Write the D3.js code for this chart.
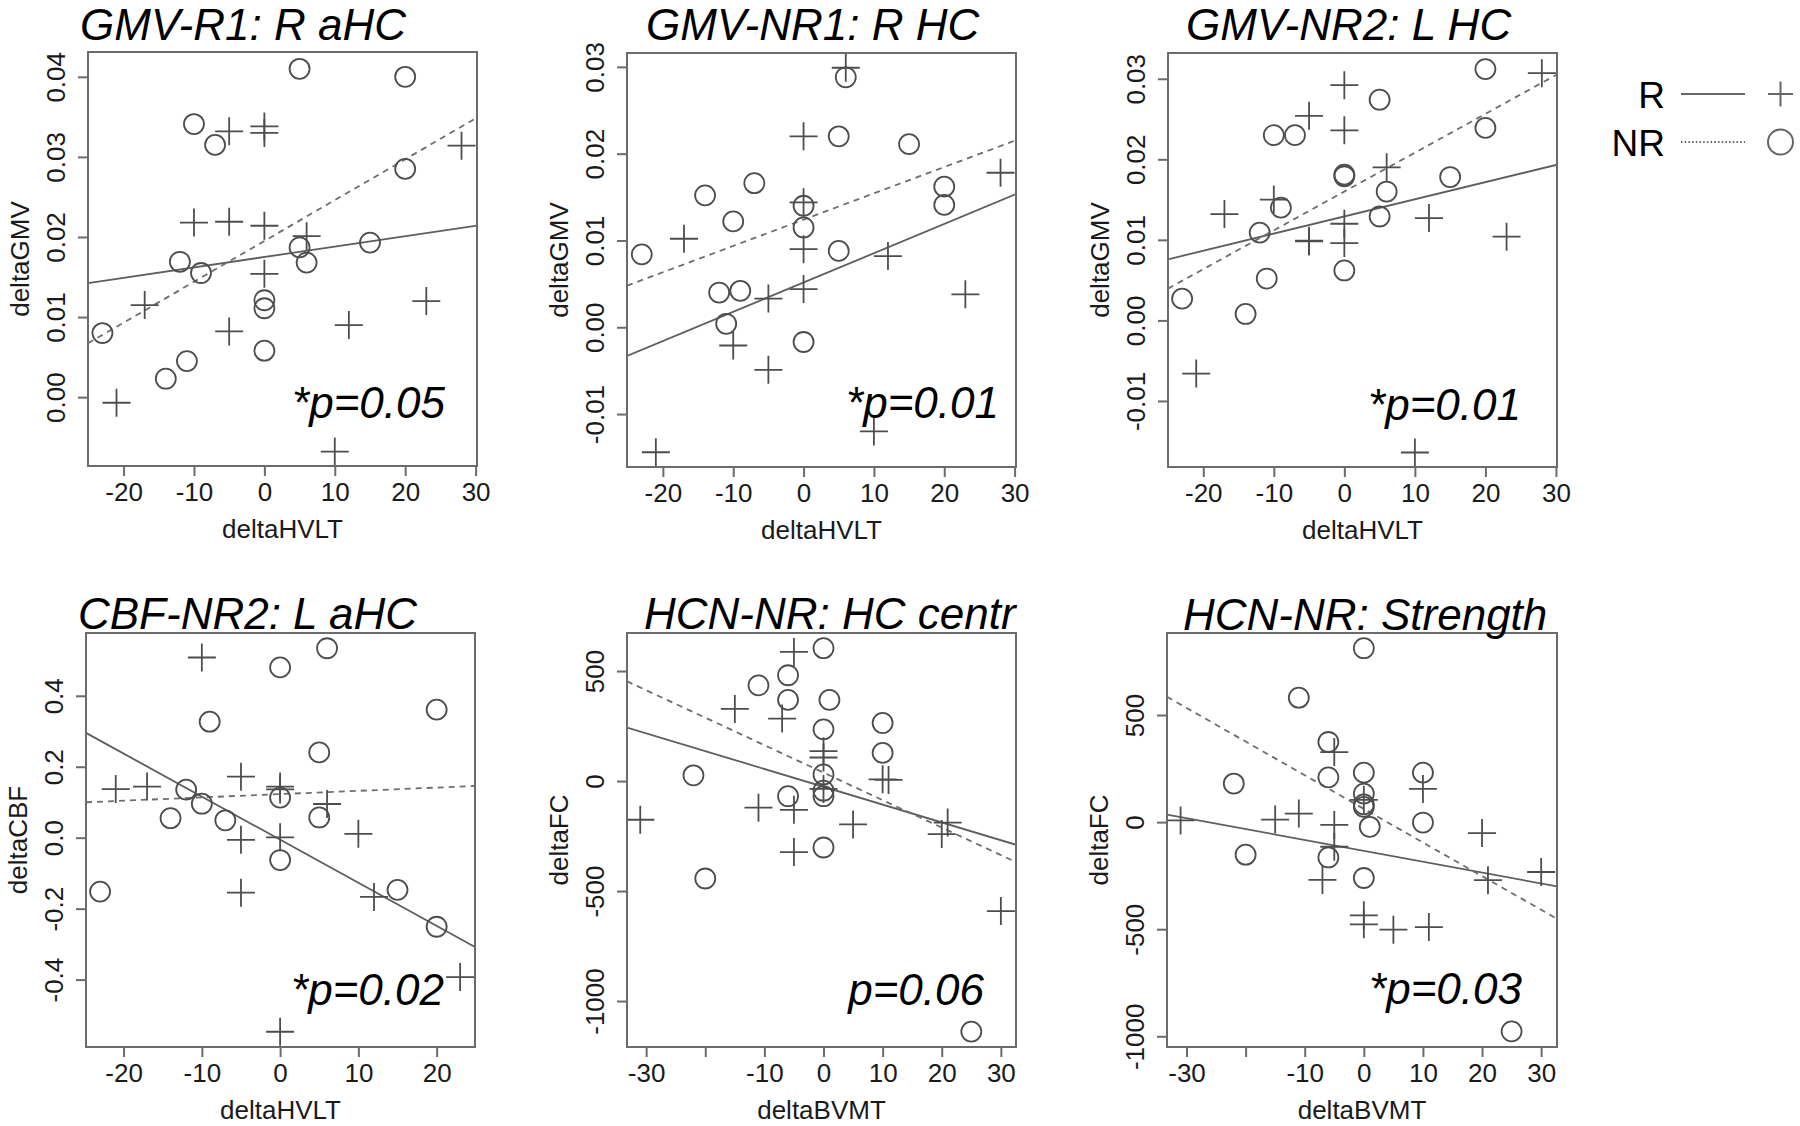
<!DOCTYPE html>
<html><head><meta charset="utf-8">
<script src="https://cdn.jsdelivr.net/npm/d3@7"></script>
<style>body{margin:0;background:#fff}svg{display:block}</style>
</head><body>
<svg id="chart" width="1800" height="1126"></svg>
<script>
// ---------------- DATA ----------------
const titles  = ["GMV-R1: R aHC", "GMV-NR1: R HC", "GMV-NR2: L HC", "CBF-NR2: L aHC", "HCN-NR: HC centr", "HCN-NR: Strength"];
const pLabels = ["*p=0.05", "*p=0.01", "*p=0.01", "*p=0.02", "p=0.06", "*p=0.03"];
const xTitles = ["deltaHVLT", "deltaHVLT", "deltaHVLT", "deltaHVLT", "deltaBVMT", "deltaBVMT"];
const yTitles = ["deltaGMV", "deltaGMV", "deltaGMV", "deltaCBF", "deltaFC", "deltaFC"];
const legendLabels = ["R", "NR"];

const xDomains = [[-25.05, 30.2], [-25.1, 30.2], [-25.0, 30.15], [-24.8, 24.9], [-33.24, 32.56], [-33.3, 32.68]];
const yDomains = [[-0.0086, 0.0431], [-0.0161, 0.0316], [-0.0182, 0.0332], [-0.590, 0.577], [-1209, 673], [-1050, 883]];

const xTicksHVLT30 = [-20, -10, 0, 10, 20, 30];
const xTicksHVLT20 = [-20, -10, 0, 10, 20];
const xTicksBVMT = [-30, -20, -10, 0, 10, 20, 30];
const xTickLabelsHVLT30 = ["-20", "-10", "0", "10", "20", "30"];
const xTickLabelsHVLT20 = ["-20", "-10", "0", "10", "20"];
const xTickLabelsBVMT = ["-30", "", "-10", "0", "10", "20", "30"];

const yTicks1 = [0, 0.01, 0.02, 0.03, 0.04];
const yTickLabels1 = ["0.00", "0.01", "0.02", "0.03", "0.04"];
const yTicks23 = [-0.01, 0, 0.01, 0.02, 0.03];
const yTickLabels23 = ["-0.01", "0.00", "0.01", "0.02", "0.03"];
const yTicks4 = [-0.4, -0.2, 0, 0.2, 0.4];
const yTickLabels4 = ["-0.4", "-0.2", "0.0", "0.2", "0.4"];
const yTicksFC = [-1000, -500, 0, 500];
const yTickLabelsFC = ["-1000", "-500", "0", "500"];

// Responders (R, plus) and non-responders (NR, circle): [x, y]
const r1 = [[-5,0.0332],[0,0.0338],[0,0.0330],[28,0.0314],[-10,0.0218],[-5,0.0219],[0,0.0214],[6,0.0201],[0,0.0154],[-17,0.0115],[-5,0.0082],[12,0.0090],[23,0.0120],[-21,-0.0007],[10,-0.0068]];
const nr1 = [[5,0.041],[20,0.040],[-10,0.0341],[-7,0.0315],[20,0.0285],[-12,0.0169],[-9,0.0155],[5,0.0187],[6,0.0168],[15,0.0193],[0,0.0121],[0,0.0111],[0,0.0058],[-23,0.0080],[-11,0.0045],[-14,0.0023]];
const r2 = [[6,0.0299],[0,0.0220],[28,0.0178],[0,0.0144],[-17,0.0102],[0,0.0090],[12,0.0082],[0,0.0044],[-5,0.0033],[23,0.0038],[-10,-0.0021],[-5,-0.0049],[10,-0.0120],[-21,-0.0144]];
const nr2 = [[6,0.0288],[5,0.0220],[15,0.0211],[-7,0.0166],[-14,0.0152],[-10,0.0122],[0,0.0140],[0,0.0115],[20,0.0162],[20,0.0141],[-23,0.0084],[5,0.0088],[-12,0.0040],[-9,0.0042],[-11,0.0004],[0,-0.0017]];
const r3 = [[0,0.0292],[-5,0.0254],[0,0.0236],[28,0.0307],[6,0.0190],[-10,0.0150],[-17,0.0132],[-5,0.0099],[-5,0.0098],[0,0.0120],[0,0.0096],[12,0.0127],[23,0.0104],[-21,-0.0066],[10,-0.0164]];
const nr3 = [[20,0.0312],[5,0.0274],[20,0.0239],[-10,0.0230],[-7,0.0230],[0,0.0181],[0,0.0179],[15,0.0178],[6,0.0160],[-9,0.0140],[5,0.0129],[-12,0.0109],[-11,0.0052],[0,0.0062],[-23,0.0027],[-14,0.0008]];
const r4 = [[-10,0.508],[-21,0.137],[-17,0.144],[-5,0.172],[0,0.144],[0,0.136],[6,0.095],[-5,-0.006],[0,0.001],[10,0.011],[-5,-0.155],[12,-0.167],[23,-0.393],[0,-0.547]];
const nr4 = [[6,0.534],[0,0.480],[-9,0.327],[20,0.361],[5,0.2405],[-12,0.1355],[-10,0.0958],[-14,0.055],[-7,0.049],[0,0.113],[5,0.057],[0,-0.063],[-23,-0.152],[15,-0.147],[20,-0.251]];
const r5 = [[-5,587],[-15,328],[-7,284],[0,136],[0,107],[10,8],[11,5],[0,-36],[-31,-176],[-11,-121],[-5,-131],[5,-197],[21,-189],[20,-241],[-5,-323],[30,-591]];
const nr5 = [[0,604],[-6,481],[-11,435],[-6,369],[1,369],[0,235],[10,264],[10,128],[0,30],[-22,26],[-6,-69],[0,-44],[0,-69],[0,-302],[-20,-443],[25,-1139]];
const r6 = [[-5,327],[0,104],[10,155],[-31,8],[-15,12],[-11,40],[-5,-13],[-5,-115],[-7,-270],[20,-51],[21,-271],[30,-233],[0,-435],[0,-477],[5,-502],[11,-490]];
const nr6 = [[0,812],[-11,581],[-6,374],[-6,209],[-22,180],[0,231],[0,133],[0,83],[0,71],[1,-22],[10,231],[10,-2],[-20,-152],[-6,-165],[0,-261],[25,-977]];

// fitted regression lines: [intercept, slope]
const fitR  = [[0.0175, 0.000130], [0.00516, 0.000337], [0.01291, 0.000213], [-0.0056, -0.01214], [-26, -8.10], [-134, -5.08]];
const fitNR = [[0.0195, 0.00051], [0.01240, 0.000303], [0.01600, 0.000482], [0.1228, 0.000922], [38.3, -12.49], [62, -15.71]];

// ---------------- LAYOUT ----------------
const boxes = [
  {l: 88,  r: 477,  t: 52,  b: 466},
  {l: 627, r: 1016, t: 53,  b: 467},
  {l: 1168, r: 1557, t: 53, b: 467},
  {l: 86,  r: 475,  t: 633, b: 1047},
  {l: 627, r: 1016, t: 633, b: 1047},
  {l: 1167, r: 1557, t: 633, b: 1047}
];
const titlePos = [[80, 40], [646, 40], [1186, 40], [78, 629], [644, 629], [1183, 630]];
const pPos = [[445, 418], [999, 418], [1521, 420], [444, 1005], [984, 1005], [1522, 1004]];

const panelData = [
  {R: r1, NR: nr1, xt: xTicksHVLT30, xl: xTickLabelsHVLT30, yt: yTicks1, yl: yTickLabels1},
  {R: r2, NR: nr2, xt: xTicksHVLT30, xl: xTickLabelsHVLT30, yt: yTicks23, yl: yTickLabels23},
  {R: r3, NR: nr3, xt: xTicksHVLT30, xl: xTickLabelsHVLT30, yt: yTicks23, yl: yTickLabels23},
  {R: r4, NR: nr4, xt: xTicksHVLT20, xl: xTickLabelsHVLT20, yt: yTicks4, yl: yTickLabels4},
  {R: r5, NR: nr5, xt: xTicksBVMT, xl: xTickLabelsBVMT, yt: yTicksFC, yl: yTickLabelsFC},
  {R: r6, NR: nr6, xt: xTicksBVMT, xl: xTickLabelsBVMT, yt: yTicksFC, yl: yTickLabelsFC}
];

const FONT = "'Liberation Sans', Arial, Helvetica, sans-serif";
const svg = d3.select("#chart");
const PLUS = 14, CIRC = 10;
const markColor = "#4d4d4d";

function plusPath(cx, cy, s) {
  return `M${cx - s},${cy}H${cx + s}M${cx},${cy - s}V${cy + s}`;
}

panelData.forEach((p, i) => {
  const b = boxes[i];
  const x = d3.scaleLinear().domain(xDomains[i]).range([b.l, b.r]);
  const y = d3.scaleLinear().domain(yDomains[i]).range([b.b, b.t]);
  const g = svg.append("g");

  g.append("clipPath").attr("id", "clip" + i)
    .append("rect").attr("x", b.l).attr("y", b.t).attr("width", b.r - b.l).attr("height", b.b - b.t);

  // x axis
  const xa = g.append("g").attr("transform", `translate(0,${b.b})`)
    .call(d3.axisBottom(x).tickValues(p.xt).tickFormat((d, j) => p.xl[j]).tickSize(10).tickSizeOuter(0));
  xa.select(".domain").remove();
  xa.selectAll(".tick line").attr("stroke", "#6b6b6b").attr("stroke-width", 2);
  xa.selectAll(".tick text").attr("y", 35).attr("dy", 0)
    .style("font-family", FONT).style("font-size", "26px").attr("fill", "#1a1a1a");

  // y axis
  const ya = g.append("g").attr("transform", `translate(${b.l},0)`)
    .call(d3.axisLeft(y).tickValues(p.yt).tickFormat((d, j) => p.yl[j]).tickSize(10).tickSizeOuter(0));
  ya.select(".domain").remove();
  ya.selectAll(".tick line").attr("stroke", "#6b6b6b").attr("stroke-width", 2);
  ya.selectAll(".tick text").attr("transform", "rotate(-90)").attr("x", 0).attr("y", -23).attr("dy", 0)
    .attr("text-anchor", "middle")
    .style("font-family", FONT).style("font-size", "26px").attr("fill", "#1a1a1a");

  // axis titles
  g.append("text").attr("x", (b.l + b.r) / 2).attr("y", b.b + 72).attr("text-anchor", "middle")
    .style("font-family", FONT).style("font-size", "26px").attr("fill", "#1a1a1a").text(xTitles[i]);
  g.append("text").attr("transform", `translate(${b.l - 59},${(b.t + b.b) / 2}) rotate(-90)`)
    .attr("text-anchor", "middle")
    .style("font-family", FONT).style("font-size", "26px").attr("fill", "#1a1a1a").text(yTitles[i]);

  // regression lines
  const lines = g.append("g").attr("clip-path", `url(#clip${i})`);
  const dx = xDomains[i];
  lines.append("line")
    .attr("x1", x(dx[0])).attr("x2", x(dx[1]))
    .attr("y1", y(fitR[i][0] + fitR[i][1] * dx[0])).attr("y2", y(fitR[i][0] + fitR[i][1] * dx[1]))
    .attr("stroke", "#5e5e5e").attr("stroke-width", 1.8);
  lines.append("line")
    .attr("x1", x(dx[0])).attr("x2", x(dx[1]))
    .attr("y1", y(fitNR[i][0] + fitNR[i][1] * dx[0])).attr("y2", y(fitNR[i][0] + fitNR[i][1] * dx[1]))
    .attr("stroke", "#6e6e6e").attr("stroke-width", 1.8).attr("stroke-dasharray", "6,5");

  // markers
  g.append("g").selectAll("path").data(p.R).join("path")
    .attr("d", d => plusPath(x(d[0]), y(d[1]), PLUS))
    .attr("fill", "none").attr("stroke", markColor).attr("stroke-width", 1.8);
  g.append("g").selectAll("circle").data(p.NR).join("circle")
    .attr("cx", d => x(d[0])).attr("cy", d => y(d[1])).attr("r", CIRC)
    .attr("fill", "none").attr("stroke", markColor).attr("stroke-width", 1.8);

  // box
  g.append("rect").attr("x", b.l).attr("y", b.t).attr("width", b.r - b.l).attr("height", b.b - b.t)
    .attr("fill", "none").attr("stroke", "#6b6b6b").attr("stroke-width", 2);

  // title
  svg.append("text").attr("x", titlePos[i][0]).attr("y", titlePos[i][1])
    .style("font-family", FONT).style("font-size", "44px").style("font-style", "italic")
    .attr("fill", "#000").text(titles[i]);
  // p value
  svg.append("text").attr("x", pPos[i][0]).attr("y", pPos[i][1]).attr("text-anchor", "end")
    .style("font-family", FONT).style("font-size", "44px").style("font-style", "italic")
    .attr("fill", "#000").text(pLabels[i]);
});

// legend
const lg = svg.append("g");
const legY = [94, 142];
legendLabels.forEach((t, k) => {
  lg.append("text").attr("x", 1665).attr("y", legY[k] + 13.5).attr("text-anchor", "end")
    .style("font-family", FONT).style("font-size", "37px").attr("fill", "#000").text(t);
  lg.append("line").attr("x1", 1681).attr("x2", 1745).attr("y1", legY[k]).attr("y2", legY[k])
    .attr("stroke", "#666").attr("stroke-width", 2)
    .attr("stroke-dasharray", k === 0 ? null : "1.5,2.2");
});
lg.append("path").attr("d", plusPath(1780.5, legY[0], 12.5)).attr("fill", "none").attr("stroke", "#666").attr("stroke-width", 2);
lg.append("circle").attr("cx", 1780.5).attr("cy", legY[1]).attr("r", 12.5).attr("fill", "none").attr("stroke", "#666").attr("stroke-width", 2);
</script>
</body></html>
